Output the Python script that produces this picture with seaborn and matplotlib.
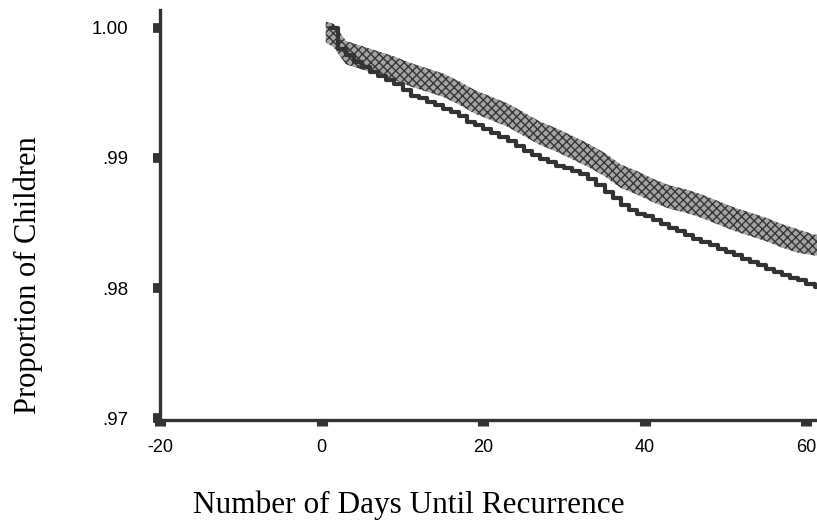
import matplotlib
matplotlib.use("Agg")
import matplotlib.pyplot as plt
import seaborn as sns
import numpy as np
import pandas as pd

# survival curve (dark stepped line), one value per day
line_days = list(range(1, 63))
line_prop = [1.0000, 0.9984, 0.9979, 0.9974, 0.9970, 0.9966, 0.9963, 0.9960,
             0.9957, 0.9952, 0.9948, 0.9946, 0.9943, 0.9941, 0.9938, 0.9935,
             0.9932, 0.9928, 0.9925, 0.9922, 0.9919, 0.9916, 0.9913, 0.9909,
             0.9905, 0.9902, 0.9899, 0.9897, 0.9894, 0.9892, 0.9890, 0.9888,
             0.9884, 0.9879, 0.9874, 0.9869, 0.9864, 0.9860, 0.9857, 0.9855,
             0.9852, 0.9849, 0.9846, 0.9844, 0.9841, 0.9838, 0.9835, 0.9833,
             0.9830, 0.9828, 0.9825, 0.9822, 0.9820, 0.9818, 0.9815, 0.9812,
             0.9810, 0.9808, 0.9806, 0.9803, 0.9801, 0.9800]

# shaded band (upper curve), every 2 days
band_days = [0.5, 1.5, 3, 5, 7, 9, 11, 13, 15, 17, 19, 21, 23, 25, 27, 29, 31,
             33, 35, 37, 39, 41, 43, 45, 47, 49, 51, 53, 55, 57, 59, 61, 62]
band_top = [1.0005, 1.0003, 0.9990, 0.9986, 0.9982, 0.9978, 0.9973, 0.9969,
            0.9965, 0.9959, 0.9952, 0.9947, 0.9942, 0.9935, 0.9928, 0.9923,
            0.9917, 0.9911, 0.9904, 0.9895, 0.9890, 0.9884, 0.9879, 0.9876,
            0.9872, 0.9867, 0.9862, 0.9858, 0.9854, 0.9849, 0.9845, 0.9841,
            0.9841]
band_bot = [0.9989, 0.9985, 0.9972, 0.9968, 0.9964, 0.9960, 0.9955, 0.9951,
            0.9947, 0.9941, 0.9934, 0.9929, 0.9924, 0.9917, 0.9910, 0.9905,
            0.9899, 0.9893, 0.9886, 0.9877, 0.9872, 0.9866, 0.9861, 0.9858,
            0.9854, 0.9849, 0.9844, 0.9840, 0.9836, 0.9831, 0.9827, 0.9825,
            0.9825]

x_ticks = [-20, 0, 20, 40, 60]
y_ticks = [0.97, 0.98, 0.99, 1.00]
y_tick_labels = ['.97', '.98', '.99', '1.00']

sns.set_style('white')
plt.rcParams['hatch.linewidth'] = 1.0

fig = plt.figure(figsize=(8.17, 5.25), dpi=100)
ax = fig.add_axes([0.196, 0.2, 0.804, 0.781])

# stippled band
ax.fill_between(band_days, band_bot, band_top,
                facecolor='#a4a4a4', edgecolor='#363636', hatch='xxxx',
                linewidth=0)

# dark stepped line
df = pd.DataFrame({'day': line_days, 'prop': line_prop})
sns.lineplot(data=df, x='day', y='prop', ax=ax, color='#333333',
             linewidth=3, drawstyle='steps-post')

ax.set_xlim(-20, 61.3)
ax.set_ylim(0.96985, 1.00138)
ax.set_xticks(x_ticks)
ax.set_xticklabels([str(t) for t in x_ticks], family='Liberation Sans',
                   fontsize=13, color='black')
ax.set_yticks(y_ticks)
ax.set_yticklabels(y_tick_labels, family='Liberation Sans', fontsize=13.5,
                   color='black')
ax.tick_params(axis='y', left=True, direction='out', length=5, width=7,
               color='#333333', pad=18)
ax.tick_params(axis='x', bottom=True, direction='out', length=4, width=8,
               color='#333333', pad=10)
ax.set_xlabel('')
ax.set_ylabel('')

for side in ['top', 'right']:
    ax.spines[side].set_visible(False)
for side in ['left', 'bottom']:
    ax.spines[side].set_color('#333333')
    ax.spines[side].set_linewidth(2.4)

fig.text(0.5, 0.038, 'Number of Days Until Recurrence', ha='center',
         va='center', family='Liberation Serif', fontsize=22.5, color='black')
fig.text(0.034, 0.476, 'Proportion of Children', ha='center', va='center',
         rotation=90, family='Liberation Serif', fontsize=22, color='black')

fig.savefig('out.png', dpi=100)
